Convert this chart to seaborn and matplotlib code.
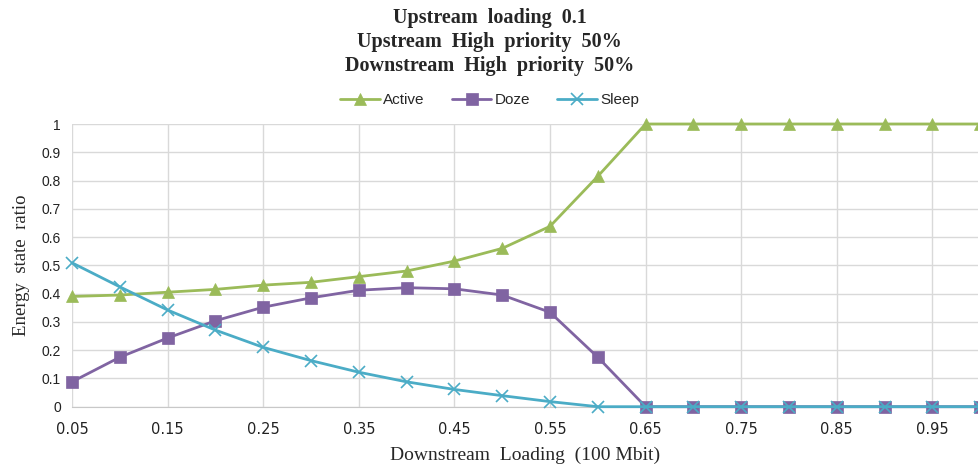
import numpy as np
import pandas as pd
import seaborn as sns
import matplotlib.pyplot as plt

# Downstream loading (100 Mbit)
loading = [0.05, 0.10, 0.15, 0.20, 0.25, 0.30, 0.35, 0.40, 0.45, 0.50,
           0.55, 0.60, 0.65, 0.70, 0.75, 0.80, 0.85, 0.90, 0.95, 1.00]
active = [0.39, 0.395, 0.405, 0.415, 0.43, 0.44, 0.46, 0.48, 0.515, 0.56,
          0.638, 0.815, 1.0, 1.0, 1.0, 1.0, 1.0, 1.0, 1.0, 1.0]
doze = [0.088, 0.175, 0.243, 0.304, 0.352, 0.385, 0.412, 0.421, 0.417, 0.395,
        0.334, 0.175, 0.0, 0.0, 0.0, 0.0, 0.0, 0.0, 0.0, 0.0]
sleep = [0.509, 0.424, 0.342, 0.271, 0.21, 0.163, 0.122, 0.088, 0.061, 0.039,
         0.018, 0.0, 0.0, 0.0, 0.0, 0.0, 0.0, 0.0, 0.0, 0.0]

xticks = [0.05, 0.15, 0.25, 0.35, 0.45, 0.55, 0.65, 0.75, 0.85, 0.95]
yticks = [0, 0.1, 0.2, 0.3, 0.4, 0.5, 0.6, 0.7, 0.8, 0.9, 1]

sns.set_style("white")
plt.rcParams['font.family'] = ['Liberation Sans', 'DejaVu Sans']

fig = plt.figure(figsize=(9.79, 4.67), dpi=100)
ax = fig.add_axes([72 / 979, 1 - 406.7 / 467, 1 - 72 / 979, (406.7 - 124) / 467])

series = [("Active", active, "#9BBB59", "^", 9),
          ("Doze", doze, "#8064A2", "s", 8.5),
          ("Sleep", sleep, "#4BACC6", "x", 8)]
for name, vals, col, mk, ms in series:
    sns.lineplot(x=loading, y=vals, ax=ax, color=col, marker=mk, markersize=ms,
                 markeredgecolor=col, markeredgewidth=1.2 if mk == "x" else 0.5,
                 linewidth=2, label=name, clip_on=False, zorder=3)

ax.set_xlim(0.05, 0.05 + (979 - 72) / 47.8 * 0.05)
ax.set_ylim(0, 1)
ax.set_xticks(xticks)
ax.set_xticklabels([f"{t:g}" for t in xticks], family=['Liberation Sans Narrow', 'DejaVu Sans'], fontsize=10.5)
ax.set_yticks(yticks)
ax.set_yticklabels([f"{t:g}" for t in yticks], fontsize=10)
ax.tick_params(axis='x', length=0, pad=11, colors='#222222')
ax.tick_params(axis='y', length=0, pad=8, colors='#222222')
ax.grid(True, color='#d9d9d9', linewidth=1)
for s in ['top', 'right', 'left']:
    ax.spines[s].set_visible(False)
ax.spines['bottom'].set_color('#c8c8c8')

ax.set_xlabel("Downstream  Loading  (100 Mbit)", family=['Liberation Serif'], fontsize=14, labelpad=7)
ax.set_ylabel("Energy  state  ratio", family=['Liberation Serif'], fontsize=13.5, labelpad=8)

fig.text(0.5, 1 - 42 / 467, "Upstream  loading  0.1\nUpstream  High  priority  50%\nDownstream  High  priority  50%",
         ha='center', va='center', family=['Liberation Serif'], fontweight='bold', fontsize=14.5,
         linespacing=1.24)

ax.legend_.remove()
h, l = ax.get_legend_handles_labels()
fig.legend(h, l, loc='center', bbox_to_anchor=(0.5, 1 - 100 / 467), ncol=3, frameon=False,
           fontsize=11, handlelength=2.6, columnspacing=1.8, handletextpad=0.2)

plt.savefig("out.png", dpi=100)
